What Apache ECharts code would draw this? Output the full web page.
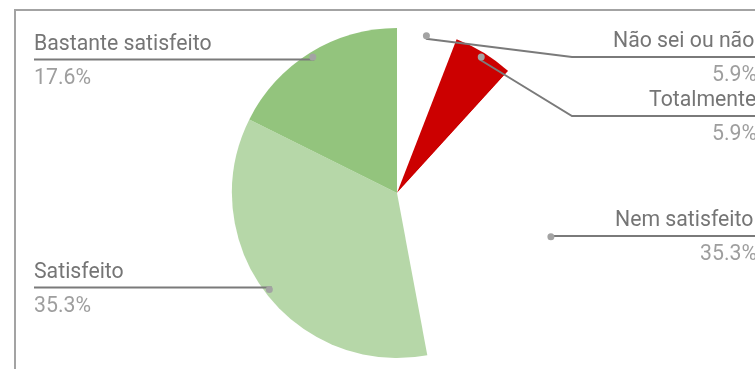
<!DOCTYPE html>
<html><head><meta charset="utf-8">
<script src="https://cdn.jsdelivr.net/npm/echarts@6/dist/echarts.min.js"></script>
<style>html,body{margin:0;padding:0;background:#fff;overflow:hidden}#c{width:755px;height:369px}</style>
</head><body><div id="c"></div>
<script>
// ---- data ----
const categories = ['Não sei ou não respondeu', 'Totalmente insatisfeito', 'Nem satisfeito nem insatisfeito', 'Satisfeito', 'Bastante satisfeito'];
const values = [1, 1, 6, 6, 3];
const sliceColors = ['#ffffff', '#cc0000', '#ffffff', '#b6d7a8', '#93c47d'];

// ---- layout constants ----
const CX = 397, CY = 193, R = 165, DOT_R = 157;
const LEFT_TEXT_X = 34, RIGHT_EDGE = 757, ELBOW_X = 572, LINE_END_X = 800;
const MIN_LINE_Y = 57, LABEL_GAP = 59, LABEL_TOP_OFFSET = 31;
const RIGHT_TEXT_START = {0: 613, 1: 649, 2: 615};

const total = values.reduce((a, b) => a + b, 0);
const pct = v => (v / total * 100).toFixed(1) + '%';
let acc = 0;
const mids = values.map(v => { const m = (acc + v / 2) / total * 2 * Math.PI; acc += v; return m; });
const dots = mids.map(a => [CX + DOT_R * Math.sin(a), CY - DOT_R * Math.cos(a)]);
const side = mids.map(a => a < Math.PI ? 'right' : 'left');
const lineY = [];
['left', 'right'].forEach(s => {
  const idx = values.map((_, i) => i).filter(i => side[i] === s).sort((a, b) => dots[a][1] - dots[b][1]);
  let prev = -Infinity;
  idx.forEach(i => { const y = Math.max(dots[i][1], MIN_LINE_Y, prev + LABEL_GAP); lineY[i] = y; prev = y; });
});

const FONT = 'Roboto', FS = 21.25;
const sliceData = categories.map((c, i) => ({ name: c, value: values[i], itemStyle: { color: sliceColors[i] } }));
const labelData = categories.map((c, i) => ({
  name: c, value: values[i],
  label: side[i] === 'right' ? { width: RIGHT_EDGE - RIGHT_TEXT_START[i] } : {}
}));

const chart = echarts.init(document.getElementById('c'));
chart.setOption({
  animation: false,
  backgroundColor: '#ffffff',
  graphic: [{
    type: 'rect', silent: true, z: -10,
    shape: { x: 15, y: 10, width: 900, height: 500 },
    style: { fill: null, stroke: '#a3a3a3', lineWidth: 2 }
  }],
  series: [{
    // coloured slices
    type: 'pie',
    center: [CX, CY], radius: [0, R],
    startAngle: 90, clockwise: true,
    silent: true, z: 2,
    data: sliceData,
    itemStyle: { borderWidth: 0 },
    label: { show: false },
    labelLine: { show: false }
  }, {
    // text labels and label lines, drawn above the slices
    type: 'pie',
    center: [CX, CY], radius: [0, R],
    startAngle: 90, clockwise: true,
    avoidLabelOverlap: false,
    silent: true, z: 5,
    data: labelData,
    itemStyle: { color: 'rgba(0,0,0,0)', borderWidth: 0 },
    label: {
      show: true, position: 'outside', overflow: 'none',
      formatter: p => '{n|' + p.name + '}\n{' + (side[p.dataIndex] === 'right' ? 'pr' : 'pl') + '|' + pct(p.value) + '}',
      rich: {
        n: { fontFamily: FONT, fontSize: FS, color: '#757575', lineHeight: 32, align: 'left' },
        pl: { fontFamily: FONT, fontSize: FS, color: '#9e9e9e', lineHeight: 36, align: 'left' },
        pr: { fontFamily: FONT, fontSize: FS, color: '#9e9e9e', lineHeight: 36, align: 'right' }
      }
    },
    labelLine: { show: true, lineStyle: { color: '#7a7a7a', width: 2 } },
    labelLayout: params => {
      const i = params.dataIndex;
      const d = dots[i], y = lineY[i];
      if (side[i] === 'left') {
        return {
          x: LEFT_TEXT_X, y: y - LABEL_TOP_OFFSET, align: 'left', verticalAlign: 'top',
          labelLinePoints: [[d[0], d[1]], [(d[0] + LEFT_TEXT_X) / 2, y], [LEFT_TEXT_X, y]]
        };
      }
      return {
        x: RIGHT_TEXT_START[i], y: y - LABEL_TOP_OFFSET, align: 'left', verticalAlign: 'top',
        labelLinePoints: [[d[0], d[1]], [ELBOW_X, y], [LINE_END_X, y]]
      };
    }
  }, {
    // dots at the start of each label line
    type: 'pie',
    center: [CX, CY], radius: [DOT_R - 7, DOT_R + 7],
    startAngle: 90, clockwise: true,
    silent: true, z: 8,
    data: categories.map((c, i) => ({ name: c, value: values[i] })),
    itemStyle: { color: 'rgba(0,0,0,0)', borderWidth: 0 },
    label: {
      show: true, position: 'inside',
      formatter: '{d| }',
      rich: { d: { width: 7, height: 7, borderRadius: 3.5, backgroundColor: '#a3a3a3', fontSize: 1, lineHeight: 7 } }
    },
    labelLine: { show: false }
  }]
});
</script>
</body></html>
